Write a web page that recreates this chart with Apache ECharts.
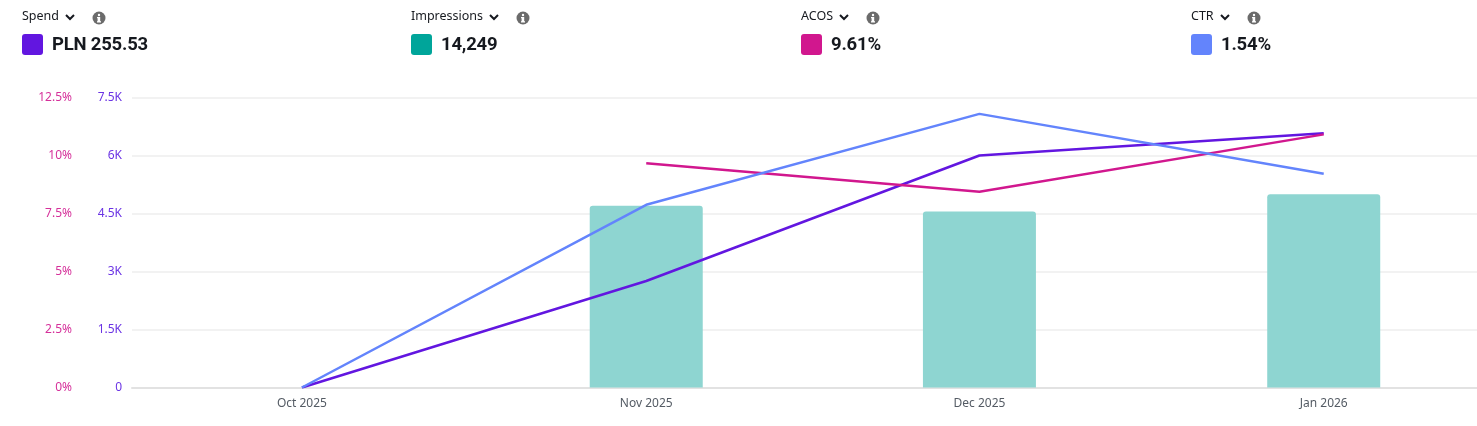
<!DOCTYPE html>
<html>
<head>
<meta charset="utf-8">
<title>Performance</title>
<script src="https://cdn.jsdelivr.net/npm/echarts@6/dist/echarts.min.js"></script>
<style>
  html, body { margin: 0; padding: 0; background: #fff; }
  body { width: 1477px; height: 426px; position: relative; overflow: hidden; font-family: "Noto Sans", sans-serif; }
  #chart { position: absolute; left: 0; top: 0; width: 1477px; height: 426px; }
  .metric { position: absolute; top: 7px; }
  .metric .name { font-size: 12.5px; color: #16191f; height: 18px; line-height: 18px; white-space: nowrap; }
  .metric .name svg { vertical-align: middle; }
  .metric .val { margin-top: 8px; height: 22px; display: flex; align-items: center; }
  .metric .sw { width: 21px; height: 21px; border-radius: 3px; display: inline-block; }
  .metric .num { margin-left: 9px; font-family: Roboto, sans-serif; font-weight: 700; font-size: 18.5px; color: #16191f; letter-spacing: -0.2px; }
</style>
</head>
<body>
<div id="chart"></div>
<div id="head"></div>
<script type="text/javascript">
    // header metrics
    var metricNames = ['Spend', 'Impressions', 'ACOS', 'CTR'];
    var metricTotals = ['PLN 255.53', '14,249', '9.61%', '1.54%'];
    var metricColors = ['#6216e0', '#00a59a', '#d1178e', '#6384fc'];

    // months on the x axis
    var monthDates = ['2025-10-01', '2025-11-01', '2025-12-01', '2026-01-01'];
    var monthLabels = ['Oct 2025', 'Nov 2025', 'Dec 2025', 'Jan 2026'];

    // series values per month
    var impressions = [0, 4700, 4549, 5000];
    var spend = [0, 45.9, 100.0, 109.63];
    var acos = [null, 9.67, 8.44, 10.91];
    var ctr = [0, 1.26, 1.887, 1.474];

    var chevron = '<svg width="12" height="10" viewBox="0 0 12 10" style="margin-left:5px"><path d="M2 3 L6 7 L10 3" fill="none" stroke="#16191f" stroke-width="2"/></svg>';
    var info = '<svg width="14" height="14" viewBox="0 0 14 14" style="margin-left:16px;margin-top:3px"><circle cx="7" cy="7" r="6.5" fill="#6b6b6b"/><circle cx="7" cy="4" r="1.2" fill="#fff"/><rect x="5.6" y="6" width="2.6" height="5" fill="#fff"/><rect x="5" y="10.2" width="4" height="1.3" fill="#fff"/><rect x="5" y="6" width="2" height="1.2" fill="#fff"/></svg>';
    var lefts = [22, 411, 801, 1191];
    var html = '';
    for (var i = 0; i < metricNames.length; i++) {
        html += '<div class="metric" style="left:' + lefts[i] + 'px">' +
            '<div class="name">' + metricNames[i] + chevron + info + '</div>' +
            '<div class="val"><span class="sw" style="background:' + metricColors[i] + '"></span>' +
            '<span class="num">' + metricTotals[i] + '</span></div></div>';
    }
    document.getElementById('head').innerHTML = html;

    // days since the first month, so the uneven month lengths show
    function dayOf(s) {
        var p = s.split('-');
        return Math.round((Date.UTC(+p[0], +p[1] - 1, +p[2]) - Date.UTC(2025, 9, 1)) / 86400000);
    }
    var monthDays = monthDates.map(dayOf);

    function pairs(vals) {
        var out = [];
        for (var i = 0; i < vals.length; i++) {
            out.push([monthDays[i], vals[i]]);
        }
        return out;
    }

    var chart = echarts.init(document.getElementById('chart'));

    var option = {
        animation: false,
        grid: {left: 132, right: 0, top: 97.5, bottom: 38.5},
        xAxis: {
            type: 'value',
            min: monthDays[0] - 15.3,
            max: monthDays[3] + 13.8,
            axisLine: {show: true, lineStyle: {color: '#e2e2e2', width: 2}},
            axisTick: {show: false},
            splitLine: {show: false},
            axisLabel: {
                customValues: monthDays,
                color: '#545b64',
                fontSize: 12,
                fontFamily: 'Noto Sans',
                margin: 10,
                formatter: function (v) {
                    var k = monthDays.indexOf(Math.round(v));
                    return k >= 0 ? monthLabels[k] : '';
                }
            }
        },
        yAxis: [{
            type: 'value',
            min: 0, max: 7500, interval: 1500,
            axisLine: {show: false},
            axisTick: {show: false},
            axisLabel: {
                color: '#6b34e4', fontSize: 12, fontFamily: 'Noto Sans', margin: 10,
                formatter: function (v) { return v === 0 ? '0' : (v / 1000) + 'K'; }
            },
            splitLine: {lineStyle: {color: '#eeeeee', width: 1.5}}
        }, {
            type: 'value',
            position: 'left',
            offset: 50,
            min: 0, max: 12.5, interval: 2.5,
            axisLine: {show: false},
            axisTick: {show: false},
            axisLabel: {
                color: '#d5309a', fontSize: 12, fontFamily: 'Noto Sans', margin: 10,
                formatter: function (v) { return v + '%'; }
            },
            splitLine: {show: false}
        }, {
            type: 'value', show: false, min: 0, max: 125
        }, {
            type: 'value', show: false, min: 0, max: 2
        }],
        series: [{
            name: 'Impressions',
            type: 'bar',
            yAxisIndex: 0,
            barWidth: 113,
            itemStyle: {color: '#8ed5d1', borderRadius: [3, 3, 0, 0]},
            data: pairs(impressions)
        }, {
            name: 'Spend',
            type: 'line',
            yAxisIndex: 2,
            showSymbol: false,
            symbol: 'none',
            lineStyle: {color: metricColors[0], width: 2.5},
            data: pairs(spend)
        }, {
            name: 'ACOS',
            type: 'line',
            yAxisIndex: 1,
            showSymbol: false,
            symbol: 'none',
            lineStyle: {color: metricColors[2], width: 2.5},
            data: pairs(acos)
        }, {
            name: 'CTR',
            type: 'line',
            yAxisIndex: 3,
            showSymbol: false,
            symbol: 'none',
            lineStyle: {color: metricColors[3], width: 2.5},
            data: pairs(ctr)
        }]
    };
    chart.setOption(option);
</script>
</body>
</html>
